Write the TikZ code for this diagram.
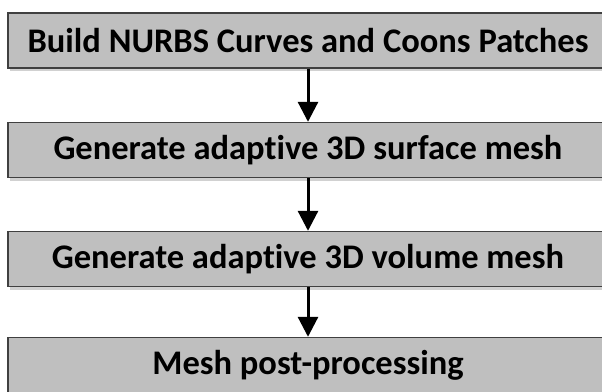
\documentclass[tikz,border=0pt]{standalone}
\usepackage{fontspec}
\setmainfont{Carlito}[RawFeature=-liga]
\usetikzlibrary{arrows.meta,shadows}
\begin{document}
\begin{tikzpicture}[x=1pt,y=-1pt,
  stepbox/.style={draw=black!75, line width=1.4pt, fill=black!25, minimum width=600pt, minimum height=55pt, inner sep=0pt, font=\fontsize{34.5}{38}\selectfont\bfseries, text=black,
    drop shadow={shadow xshift=2pt, shadow yshift=-3pt, opacity=0.3, fill=black!60}},
  flow/.style={line width=3pt, -{Triangle[length=20pt,width=20pt]}}]
\useasboundingbox (0,0) rectangle (602,391);
\clip (0,0) rectangle (602,391);
\node[stepbox] (b1) at (308,40.5) {Build NURBS Curves and Coons Patches};
\node[stepbox] (b2) at (308,150) {Generate adaptive 3D surface mesh};
\node[stepbox] (b3) at (308,259) {Generate adaptive 3D volume mesh};
\node[stepbox] (b4) at (308,365) {Mesh post-processing};
\draw[flow] (b1) -- (b2);
\draw[flow] (b2) -- (b3);
\draw[flow] (b3) -- (b4);
\end{tikzpicture}
\end{document}
